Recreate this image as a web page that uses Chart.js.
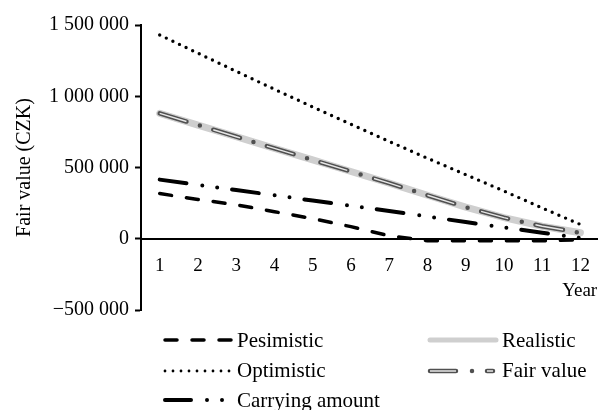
<!DOCTYPE html>
<html>
<head>
<meta charset="UTF-8">
<title>Fair value (CZK)</title>
<script src="https://cdn.jsdelivr.net/npm/chart.js@4.4.0/dist/chart.umd.min.js"></script>
<style>
  body { margin: 0; background: #fff; }
  #wrap { position: relative; width: 606px; height: 410px; font-family: "Liberation Serif", serif; color: #000; }
  #chart-container { position: absolute; left: 0; top: 0; width: 606px; height: 332px; }
  .item { position: absolute; height: 30px; line-height: 30px; font-size: 21px; white-space: nowrap; }
  .item svg { position: absolute; left: 0; top: 0; }
  .item span { position: absolute; top: 0; }
</style>
</head>
<body>
<div id="wrap">
  <div id="chart-container"><canvas id="mycanvas"></canvas></div>

  <div class="item" style="left:163px; top:325px;">
    <svg width="72" height="30"><line x1="2" y1="15" x2="68" y2="15" stroke="#000" stroke-width="3.5" stroke-linecap="round" stroke-dasharray="12 15"/></svg>
    <span style="left:74px;">Pesimistic</span>
  </div>
  <div class="item" style="left:163px; top:355px;">
    <svg width="72" height="30"><line x1="2" y1="16" x2="68" y2="16" stroke="#000" stroke-width="2.8" stroke-linecap="round" stroke-dasharray="0 8"/></svg>
    <span style="left:74px;">Optimistic</span>
  </div>
  <div class="item" style="left:163px; top:385px;">
    <svg width="72" height="30"><line x1="2" y1="15" x2="66" y2="15" stroke="#000" stroke-width="4" stroke-linecap="round" stroke-dasharray="26 16 0 15 0 40"/></svg>
    <span style="left:74px;">Carrying amount</span>
  </div>
  <div class="item" style="left:427px; top:325px;">
    <svg width="74" height="30"><line x1="3" y1="15" x2="69" y2="15" stroke="#cfcfcf" stroke-width="5" stroke-linecap="round"/></svg>
    <span style="left:75px;">Realistic</span>
  </div>
  <div class="item" style="left:427px; top:355px;">
    <svg width="74" height="30">
      <line x1="3" y1="16" x2="69" y2="16" stroke="#505050" stroke-width="4.5" stroke-linecap="round" stroke-dasharray="26 16 0 15 6 40"/>
      <line x1="3" y1="16" x2="69" y2="16" stroke="#e6e6e6" stroke-width="1.4" stroke-dasharray="26 31 6 40"/>
    </svg>
    <span style="left:75px;">Fair value</span>
  </div>
</div>

<script>
var years = [1, 2, 3, 4, 5, 6, 7, 8, 9, 10, 11, 12];
var pesimistic = [317000, 276000, 238000, 190000, 141000, 85000, 21000, -14000, -14000, -14000, -14000, -8000];
var optimistic = [1430000, 1302000, 1175000, 1049000, 925000, 803000, 683000, 565000, 450000, 335000, 216000, 100000];
var realistic = [880000, 798000, 716000, 634000, 553000, 472000, 390000, 305000, 222000, 148000, 88000, 42000];
var fairValue = [880000, 798000, 716000, 634000, 553000, 472000, 390000, 305000, 222000, 148000, 88000, 42000];
var carrying = [415000, 378000, 342000, 305000, 268000, 232000, 195000, 156000, 117000, 80000, 42000, 5000];

var yTickValues = [-500000, 0, 500000, 1000000, 1500000];
var yTickLabels = ['\u2212500 000', '0', '500 000', '1 000 000', '1 500 000'];

var serif = '"Liberation Serif", serif';

function points(vals) {
  var out = [];
  for (var i in vals) {
    out.push({ x: years[i], y: vals[i] });
  }
  return out;
}

var chartdata = {
  datasets: [
    {
      label: 'Fair value (centre)',
      data: points(fairValue),
      borderColor: '#e6e6e6',
      borderWidth: 1.4,
      borderDash: [28, 14, 0, 14],
      borderCapStyle: 'butt',
      order: 0
    },
    {
      label: 'Fair value',
      data: points(fairValue),
      borderColor: '#505050',
      borderWidth: 4.5,
      borderDash: [28, 14, 0, 14],
      borderCapStyle: 'round',
      order: 1
    },
    {
      label: 'Optimistic',
      data: points(optimistic),
      borderColor: '#000',
      borderWidth: 3.4,
      borderDash: [0, 7.3],
      borderCapStyle: 'round',
      order: 2
    },
    {
      label: 'Pesimistic',
      data: points(pesimistic),
      borderColor: '#000',
      borderWidth: 3.5,
      borderDash: [12, 15],
      borderCapStyle: 'round',
      order: 3
    },
    {
      label: 'Carrying amount',
      data: points(carrying),
      borderColor: '#000',
      borderWidth: 4,
      borderDash: [27, 16, 0, 15, 0, 15],
      borderCapStyle: 'round',
      order: 4
    },
    {
      label: 'Realistic',
      data: points(realistic),
      borderColor: '#cfcfcf',
      borderWidth: 7,
      borderCapStyle: 'round',
      order: 5
    }
  ]
};

var ctx = document.getElementById('mycanvas');

var lineGraph = new Chart(ctx, {
  type: 'line',
  data: chartdata,
  options: {
    responsive: true,
    maintainAspectRatio: false,
    animation: false,
    layout: { padding: { top: 25, right: 2, bottom: 22, left: 0 } },
    plugins: {
      legend: { display: false },
      tooltip: { enabled: false }
    },
    elements: {
      point: { radius: 0, hoverRadius: 0 },
      line: { tension: 0, fill: false }
    },
    scales: {
      x: {
        type: 'linear',
        min: 0.511,
        max: 12.438,
        position: { y: 0 },
        afterBuildTicks: function(scale) {
          scale.ticks = years.map(function(v) { return { value: v }; });
        },
        grid: { display: true, drawOnChartArea: false, drawTicks: false },
        border: { display: true, color: '#000', width: 2 },
        ticks: {
          color: '#000',
          font: { family: serif, size: 19 },
          padding: 16,
          maxRotation: 0,
          autoSkip: false
        },
        title: {
          display: true,
          text: 'Year',
          align: 'end',
          color: '#000',
          font: { family: serif, size: 19 },
          padding: { top: -14, bottom: 0 }
        }
      },
      y: {
        min: -500000,
        max: 1500000,
        afterBuildTicks: function(scale) {
          scale.ticks = yTickValues.map(function(v) { return { value: v }; });
        },
        afterFit: function(scale) { scale.width = 141; },
        grid: { drawOnChartArea: false, drawTicks: true, tickLength: 6, tickColor: '#000', tickWidth: 2 },
        border: { display: true, color: '#000', width: 2 },
        ticks: {
          color: '#000',
          font: { family: serif, size: 20 },
          padding: 6,
          callback: function(value) {
            return yTickLabels[yTickValues.indexOf(value)];
          }
        },
        title: {
          display: true,
          text: 'Fair value (CZK)',
          color: '#000',
          font: { family: serif, size: 20 },
          padding: { top: 13, bottom: 0 }
        }
      }
    }
  }
});
</script>
</body>
</html>
